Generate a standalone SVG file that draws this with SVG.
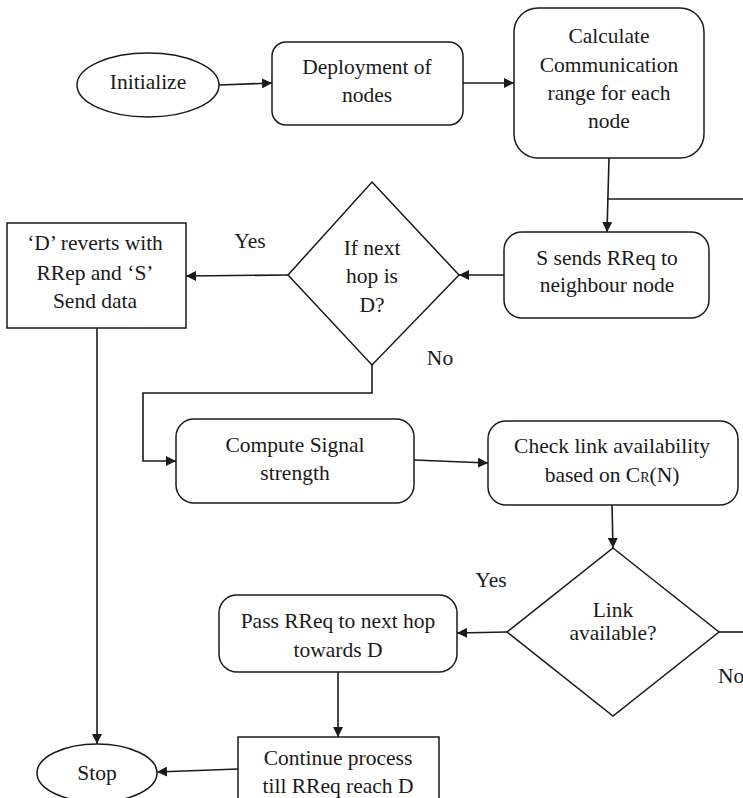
<svg xmlns="http://www.w3.org/2000/svg" width="743" height="798" viewBox="0 0 743 798">
<defs>
<style>
.shape{fill:#fff;stroke:#1a1a1a;stroke-width:1.5}
.conn{fill:none;stroke:#1a1a1a;stroke-width:1.6}
.t{fill:#1a1a1a;text-anchor:middle;font-size:21.5px}
.lbl{text-anchor:start}
</style>
<marker id="arr" markerUnits="userSpaceOnUse" markerWidth="11" markerHeight="10" refX="10" refY="5" orient="auto">
<path d="M0,0 L10,5 L0,10 z" fill="#1a1a1a"/>
</marker>
</defs>
<rect width="743" height="798" fill="#fff"/>
<g id="connectors">
<path class="conn" d="M219,85 L272,83" marker-end="url(#arr)"/>
<path class="conn" d="M463,83 L514,83" marker-end="url(#arr)"/>
<path class="conn" d="M609,158 L607,232" marker-end="url(#arr)"/>
<path class="conn" d="M607,199 L743,199"/>
<path class="conn" d="M504,275 L459,275" marker-end="url(#arr)"/>
<path class="conn" d="M288,275 L186,276" marker-end="url(#arr)"/>
<path class="conn" d="M372,365 L372,393 L143,393 L143,461 L176,461" marker-end="url(#arr)"/>
<path class="conn" d="M414,460 L488,463" marker-end="url(#arr)"/>
<path class="conn" d="M612,505 L613,548" marker-end="url(#arr)"/>
<path class="conn" d="M507,632 L457,633" marker-end="url(#arr)"/>
<path class="conn" d="M719,632 L743,632"/>
<path class="conn" d="M338,672 L338,737" marker-end="url(#arr)"/>
<path class="conn" d="M97,328 L97,744" marker-end="url(#arr)"/>
<path class="conn" d="M238,769 L157,772" marker-end="url(#arr)"/>
<text class="t" font-family="Liberation Serif" x="250" y="248">Yes</text>
<text class="t" font-family="Liberation Serif" x="440" y="365">No</text>
<text class="t" font-family="Liberation Serif" x="491" y="587">Yes</text>
<text class="t lbl" font-family="Liberation Serif" x="718" y="683">No</text>
</g>
<g id="initialize">
<ellipse class="shape" cx="148" cy="85" rx="71" ry="32"/>
<text class="t" font-family="Liberation Serif" x="148" y="89">Initialize</text>
</g>
<g id="deployment">
<rect class="shape" x="272" y="42" width="191" height="83" rx="14"/>
<text class="t" font-family="Liberation Serif" x="367" y="74">Deployment of</text>
<text class="t" font-family="Liberation Serif" x="367" y="102">nodes</text>
</g>
<g id="calculate">
<rect class="shape" x="514" y="8" width="190" height="150" rx="24"/>
<text class="t" font-family="Liberation Serif" x="609" y="43">Calculate</text>
<text class="t" font-family="Liberation Serif" x="609" y="72">Communication</text>
<text class="t" font-family="Liberation Serif" x="609" y="100">range for each</text>
<text class="t" font-family="Liberation Serif" x="609" y="128">node</text>
</g>
<g id="s-sends">
<rect class="shape" x="504" y="232" width="205" height="86" rx="18"/>
<text class="t" font-family="Liberation Serif" x="607" y="265">S sends RReq to</text>
<text class="t" font-family="Liberation Serif" x="607" y="292">neighbour node</text>
</g>
<g id="if-next-hop">
<polygon class="shape" points="372,182 459,275 372,365 288,275"/>
<text class="t" font-family="Liberation Serif" x="372" y="255">If next</text>
<text class="t" font-family="Liberation Serif" x="372" y="283">hop is</text>
<text class="t" font-family="Liberation Serif" x="372" y="312">D?</text>
</g>
<g id="d-reverts">
<rect class="shape" x="7" y="223" width="179" height="105"/>
<text class="t" font-family="Liberation Serif" x="95" y="250">‘D’ reverts with</text>
<text class="t" font-family="Liberation Serif" x="95" y="280">RRep and ‘S’</text>
<text class="t" font-family="Liberation Serif" x="95" y="308">Send data</text>
</g>
<g id="compute">
<rect class="shape" x="176" y="419" width="238" height="84" rx="18"/>
<text class="t" font-family="Liberation Serif" x="295" y="452">Compute Signal</text>
<text class="t" font-family="Liberation Serif" x="295" y="480">strength</text>
</g>
<g id="check">
<rect class="shape" x="488" y="421" width="250" height="84" rx="18"/>
<text class="t" font-family="Liberation Serif" x="612" y="453">Check link availability</text>
<text class="t" font-family="Liberation Serif" x="612" y="482">based on C<tspan font-size="14">R</tspan>(N)</text>
</g>
<g id="link-available">
<polygon class="shape" points="613,548 719,632 613,716 507,632"/>
<text class="t" font-family="Liberation Serif" x="613" y="617">Link</text>
<text class="t" font-family="Liberation Serif" x="613" y="640">available?</text>
</g>
<g id="pass">
<rect class="shape" x="219" y="595" width="238" height="77" rx="18"/>
<text class="t" font-family="Liberation Serif" x="338" y="628">Pass RReq to next hop</text>
<text class="t" font-family="Liberation Serif" x="338" y="657">towards D</text>
</g>
<g id="continue">
<rect class="shape" x="238" y="737" width="201" height="75"/>
<text class="t" font-family="Liberation Serif" x="338" y="765">Continue process</text>
<text class="t" font-family="Liberation Serif" x="338" y="793">till RReq reach D</text>
</g>
<g id="stop">
<ellipse class="shape" cx="97" cy="773" rx="60" ry="29"/>
<text class="t" font-family="Liberation Serif" x="97" y="780">Stop</text>
</g>
</svg>
